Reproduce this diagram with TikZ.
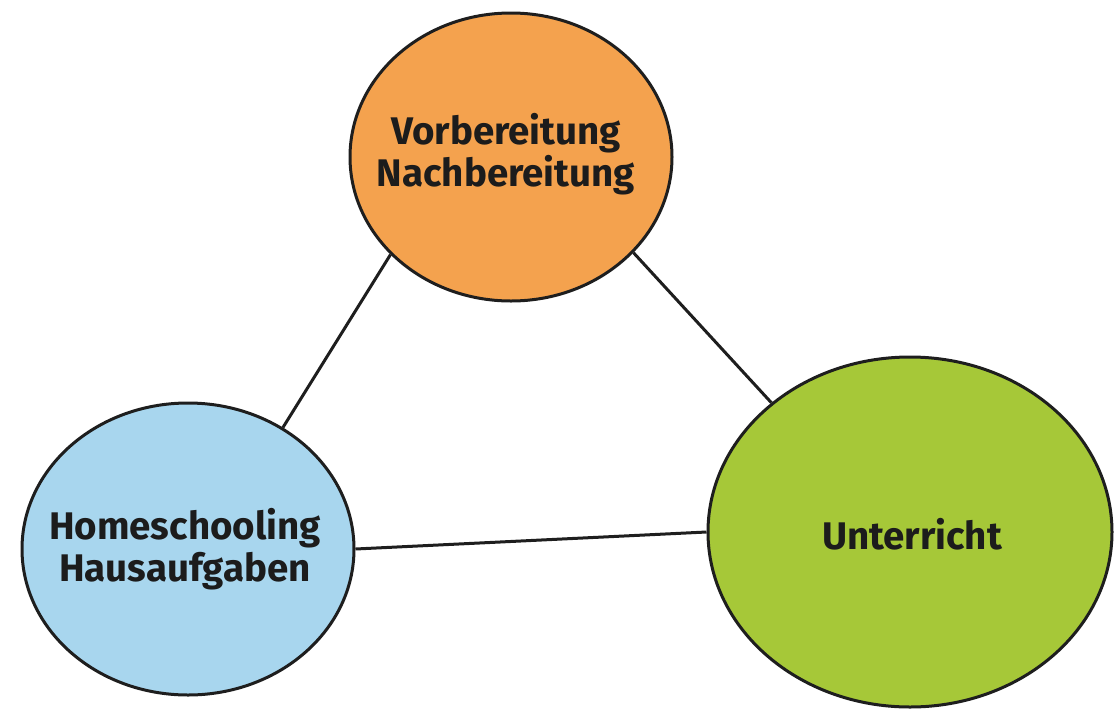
\documentclass[tikz,border=0pt]{standalone}
\usetikzlibrary{shapes.geometric}
\usepackage{fontspec}
\setmainfont{Fira Sans}
\definecolor{orangefill}{HTML}{F4A24E}
\definecolor{bluefill}{HTML}{A8D6EE}
\definecolor{greenfill}{HTML}{A6C838}
\definecolor{txt}{HTML}{1C1C1C}
\definecolor{edge}{HTML}{1E1E1E}
\begin{document}
\begin{tikzpicture}[x=1pt,y=-1pt,
  bubble/.style={ellipse, draw=edge, line width=3pt, inner sep=0pt},
  lbl/.style={font=\fontsize{38.5}{42}\selectfont\bfseries, text=txt, align=center, inner sep=0pt},
  link/.style={draw=edge, line width=3pt}]
\useasboundingbox (0,0) rectangle (1117,713);
\node[bubble, fill=orangefill, minimum width=322pt, minimum height=288pt] (vn) at (511,157) {};
\node[bubble, fill=bluefill, minimum width=332pt, minimum height=292pt] (hh) at (188,549) {};
\node[bubble, fill=greenfill, minimum width=404pt, minimum height=350pt] (un) at (910,532) {};
\node[lbl] (vnt) at (506,154) {Vorbereitung\\Nachbereitung};
\node[lbl] (hht) at (185,549) {Homeschooling\\Hausaufgaben};
\node[lbl] (unt) at (912,534) {Unterricht};
\path[link] (vn.219.1) -- (hh.52.7);
\path[link] (vn.322.5) -- (un.137.4);
\path[link] (hh.0.3) -- (un.180.9);
\end{tikzpicture}
\end{document}
